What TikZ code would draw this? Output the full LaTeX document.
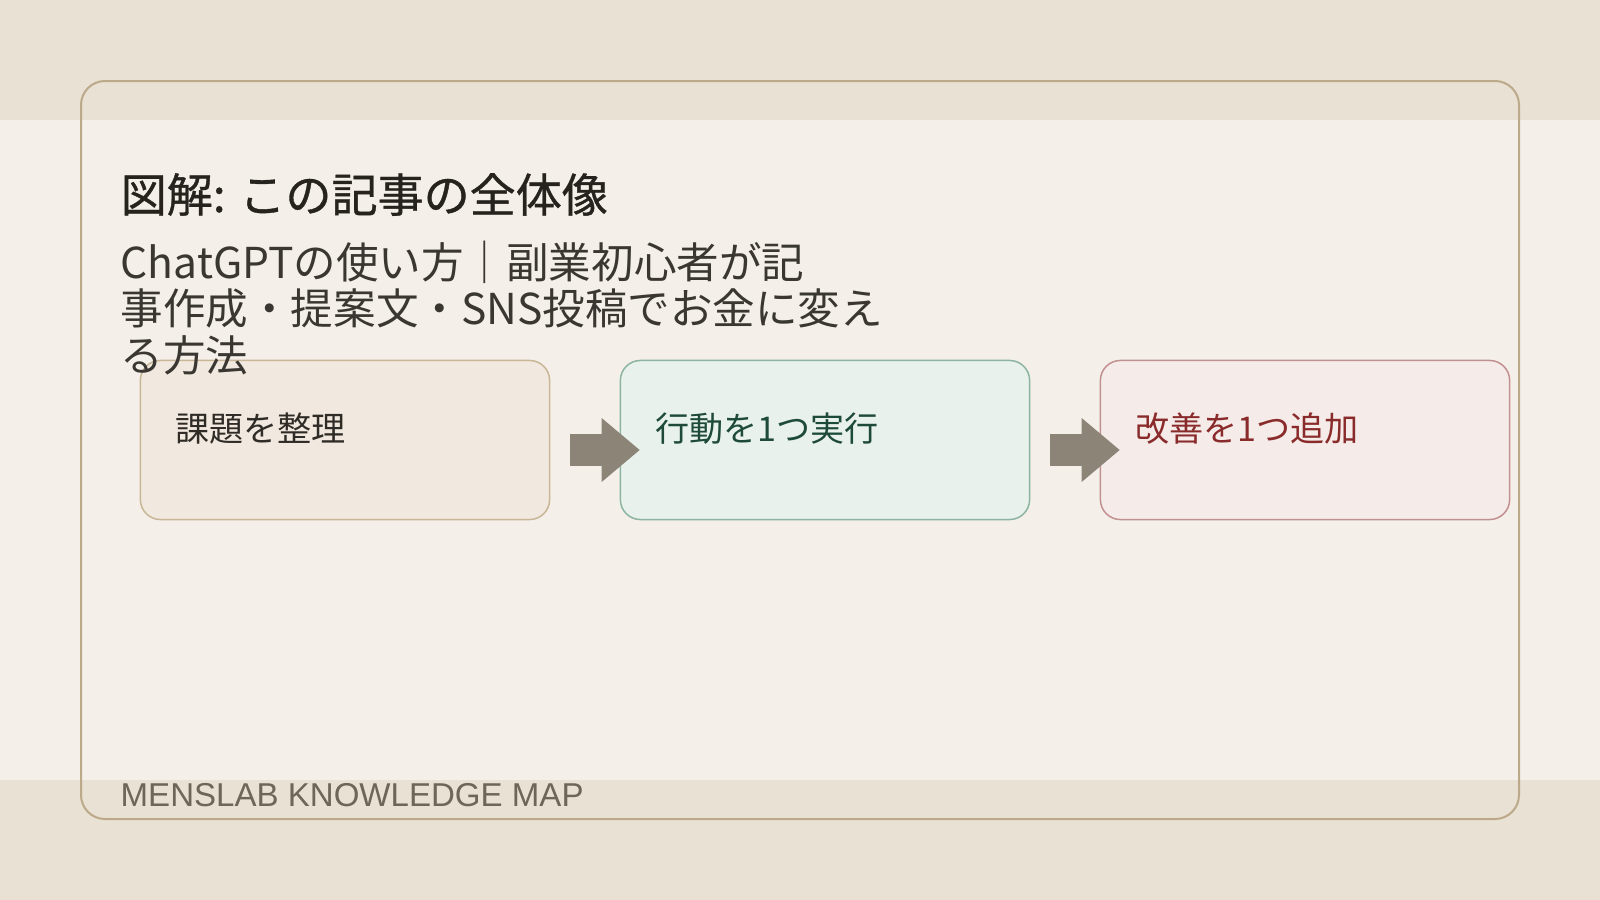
\documentclass[tikz,border=0pt]{standalone}
\usepackage{fontspec}
\setmainfont{Noto Sans CJK JP}
\newfontfamily\headfont[FakeBold=0.8]{Noto Sans CJK JP}
\newfontfamily\footfont{Liberation Sans}
\usepackage{tikz}
\usetikzlibrary{calc,arrows.meta}
\definecolor{bandc}{HTML}{E9E1D4}
\definecolor{pagec}{HTML}{F4F0E9}
\definecolor{framec}{HTML}{BCA98A}
\definecolor{titlec}{HTML}{26231F}
\definecolor{subc}{HTML}{3A3631}
\definecolor{footc}{HTML}{6E6759}
\definecolor{arrowc}{HTML}{8B8477}
\definecolor{sanddraw}{HTML}{C8B697}
\definecolor{sandfill}{HTML}{F1E9DF}
\definecolor{sandtext}{HTML}{2F2B26}
\definecolor{minttdraw}{HTML}{8DB4A2}
\definecolor{mintfill}{HTML}{E8F1EC}
\definecolor{minttext}{HTML}{1E4A38}
\definecolor{rosedraw}{HTML}{C29090}
\definecolor{rosefill}{HTML}{F5ECE9}
\definecolor{rosetext}{HTML}{8A2B2B}
\tikzset{%
  stepbox/.style={draw,rounded corners=2mm,line width=0.15mm,minimum width=40.9mm,minimum height=15.9mm,inner sep=0},
  steptext/.style={anchor=base west,inner sep=0,font=\fontsize{9.7pt}{11pt}\selectfont},
  flow/.style={draw=arrowc,line width=3.2mm,-{Triangle[length=3.8mm,width=6.4mm,line width=0pt]}}
}

\begin{document}
\begin{tikzpicture}[x=0.01cm,y=-0.01cm]
    \useasboundingbox (0,0) rectangle (1600,900);
    \fill[bandc] (0,0) rectangle (1600,900);
    \fill[pagec] (0,120) rectangle (1600,780);
    \draw[framec,line width=0.2mm,rounded corners=2.4mm] (81,81) rectangle (1519,819);
    \path
      (345,440) node (b1)[stepbox,draw=sanddraw,fill=sandfill]{}
      (825,440) node (b2)[stepbox,draw=minttdraw,fill=mintfill]{}
      (1305,440) node (b3)[stepbox,draw=rosedraw,fill=rosefill]{};
    \path
      ($(b1.north west)+(35,82)$) node (t1)[steptext,text=sandtext]{課題を整理}
      ($(b2.north west)+(35,82)$) node (t2)[steptext,text=minttext]{行動を1つ実行}
      ($(b3.north west)+(35,82)$) node (t3)[steptext,text=rosetext]{改善を1つ追加};
    \draw[flow] ($(b1.east)+(20,10)$) -- ($(b2.west)+(20,10)$);
    \draw[flow] ($(b2.east)+(20,10)$) -- ($(b3.west)+(20,10)$);
    \path
      (120,212) node (title)[anchor=base west,inner sep=0,text=titlec,font=\headfont\fontsize{13.1pt}{15pt}\selectfont]{図解: この記事の全体像}
      (120,371) node (sub)[anchor=base west,inner sep=0,align=left,text=subc,font=\fontsize{12.1pt}{13.1pt}\selectfont]{ChatGPTの使い方｜副業初心者が記\\事作成・提案文・SNS投稿でお金に変え\\る方法}
      (120,806) node (foot)[anchor=base west,inner sep=0,text=footc,font=\footfont\fontsize{9.4pt}{11pt}\selectfont]{MENSLAB KNOWLEDGE MAP};
  \end{tikzpicture}
\end{document}
